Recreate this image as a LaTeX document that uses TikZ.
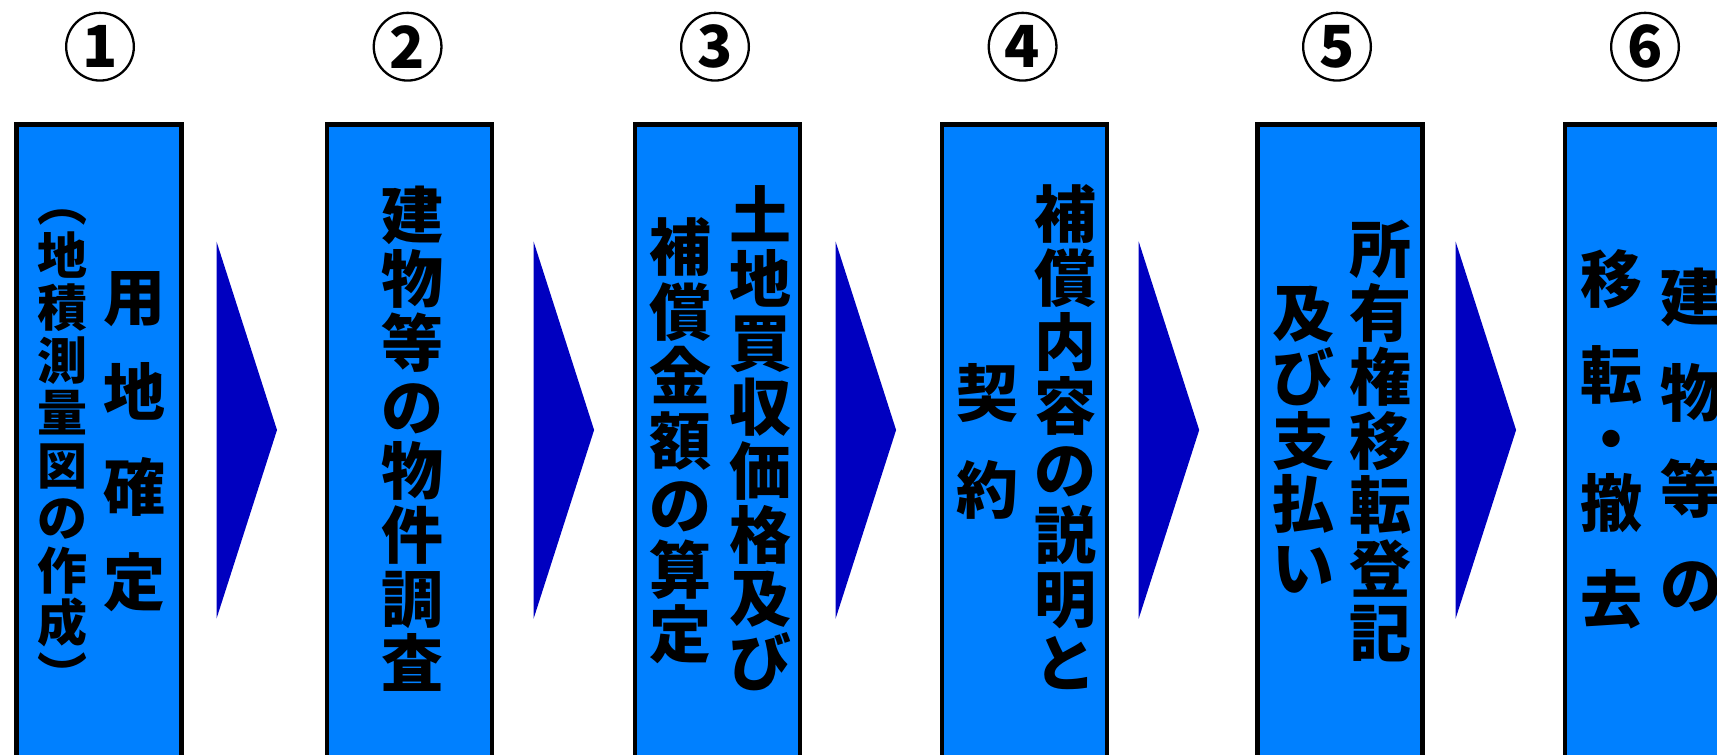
\documentclass[tikz,border=0pt]{standalone}
\usepackage{fontspec}
\newfontfamily\jp{Noto Sans CJK JP}
\definecolor{boxblue}{RGB}{0,128,255}
\definecolor{chevblue}{RGB}{0,0,192}
\newcommand\vcol[6]{% name, x, first ink centre y, pitch, font size, list
  \foreach \c [count=\i from 0] in {#6}
    \node[ch,font=\jp\bfseries\fontsize{#5}{#5}\selectfont] (#1-\i) at (#2,{#3+\i*#4+0.38*#5}) {\c};}
\begin{document}
\begin{tikzpicture}[x=1pt,y=-1pt,
  box/.style={draw=black,line width=4.5pt,fill=boxblue,minimum width=165pt,minimum height=700pt,anchor=north west,inner sep=0pt},
  num/.style={circle,draw=black,line width=2.3pt,minimum size=67.7pt,inner sep=0pt,font=\jp\bfseries\fontsize{58}{58}\selectfont},
  ch/.style={anchor=base,inner sep=0pt},
  chev/.style={fill=chevblue,draw=none}]
\useasboundingbox (0,0) rectangle (1717,755);
\clip (0,0) rectangle (1717,755);
\fill[white] (0,0) rectangle (1717,755);
% step numbers
\node[num] (n1) at (100,46.7) {1};
\node[num] (n2) at (407.6,46.7) {2};
\node[num] (n3) at (715,46.7) {3};
\node[num] (n4) at (1022.6,46.7) {4};
\node[num] (n5) at (1337,46.7) {5};
\node[num] (n6) at (1645,46.7) {6};
% boxes
\node[box] (b1) at (14,122.3) {};
\node[box] (b2) at (324.6,122.3) {};
\node[box] (b3) at (632.8,122.3) {};
\node[box] (b4) at (939.6,122.3) {};
\node[box] (b5) at (1255,122.3) {};
\node[box] (b6) at (1562.8,122.3) {};
% chevrons
\foreach \xa/\nm in {216.5/c1,533.6/c2,835.6/c3,1138.7/c4,1455.6/c5}{
  \coordinate (\nm-a) at (\xa,241.5);
  \coordinate (\nm-t) at (\xa+60.5,430);
  \coordinate (\nm-b) at (\xa,618.7);
  \fill[chev] (\nm-a) -- (\nm-t) -- (\nm-b) -- cycle;}
% texts
\vcol{t1r}{134}{297}{95}{62}{用,地,確,定}
\vcol{t1l}{62}{202.5}{52.5}{50}{︵,地,積,測,量,図,の,作,成,︶}
\vcol{t2}{412.5}{215}{64}{62}{建,物,等,の,物,件,調,査}
\vcol{t3r}{760}{215}{63.9}{62}{土,地,買,収,価,格,及,び}
\vcol{t3l}{680.6}{247}{64.5}{62}{補,償,金,額,の,算,定}
\vcol{t4r}{1065}{214}{64.1}{62}{補,償,内,容,の,説,明,と}
\vcol{t4l}{987.5}{393}{97}{62}{契,約}
\vcol{t5r}{1380.6}{249}{64}{62}{所,有,権,移,転,登,記}
\vcol{t5l}{1303}{313}{63.75}{62}{及,び,支,払,い}
\vcol{t6l}{1611}{279}{96}{62}{移,転}
\vcol{t6m}{1611}{439}{64}{62}{・,撤}
\vcol{t6n}{1611}{599}{64}{62}{去}
\vcol{t6r}{1691}{297}{96}{62}{建,物,等,の}
\end{tikzpicture}
\end{document}
